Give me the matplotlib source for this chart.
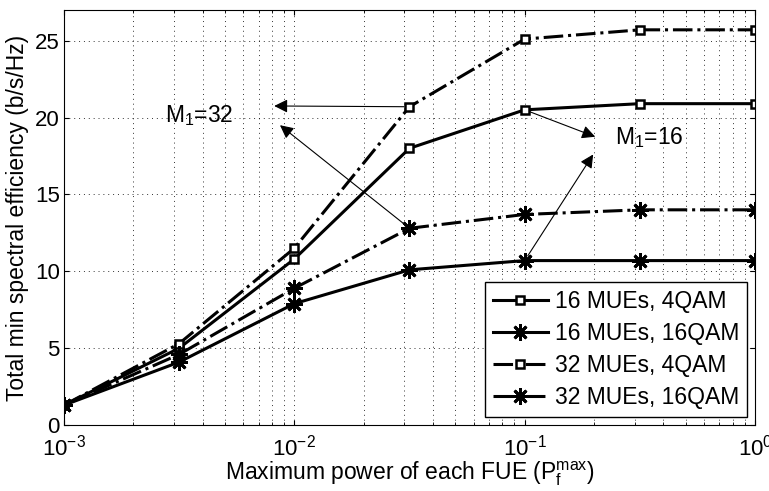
import numpy as np
import matplotlib
matplotlib.use("Agg")
import matplotlib.pyplot as plt

plt.rcParams['font.family'] = ['Liberation Sans', 'DejaVu Sans']
plt.rcParams['mathtext.fontset'] = 'custom'
plt.rcParams['mathtext.rm'] = 'Liberation Sans'
plt.rcParams['mathtext.it'] = 'Liberation Sans'
plt.rcParams['mathtext.default'] = 'regular'

# data
power = [1e-3, 10**-2.5, 1e-2, 10**-1.5, 1e-1, 10**-0.5, 1e0]
mue16_4qam = [1.3, 5.0, 10.8, 18.0, 20.5, 20.9, 20.9]
mue16_16qam = [1.3, 4.1, 7.9, 10.1, 10.7, 10.7, 10.7]
mue32_4qam = [1.3, 5.3, 11.5, 20.7, 25.1, 25.7, 25.7]
mue32_16qam = [1.3, 4.6, 8.9, 12.8, 13.7, 14.0, 14.0]

fig = plt.figure(figsize=(7.69, 4.91), dpi=100)
ax = fig.add_axes([0.083, 0.134, 0.899, 0.846])

star = (8, 2, 0)
ax.plot(power, mue16_4qam, '-', color='k', lw=2.2, marker='s', ms=6,
        mfc='white', mec='k', mew=1.8, label='16 MUEs, 4QAM')
ax.plot(power, mue16_16qam, '-', color='k', lw=2.2, marker=star, ms=12,
        mec='k', mew=2, label='16 MUEs, 16QAM')
ax.plot(power, mue32_4qam, '-.', color='k', lw=2.2, marker='s', ms=6,
        mfc='white', mec='k', mew=1.8, label='32 MUEs, 4QAM')
ax.plot(power, mue32_16qam, '-.', color='k', lw=2.2, marker=star, ms=12,
        mec='k', mew=2, label='32 MUEs, 16QAM')

ax.set_xscale('log')
ax.set_xlim(1e-3, 1)
ax.set_ylim(0, 27)
ax.set_yticks([0, 5, 10, 15, 20, 25])

gstyle = dict(linestyle=(0, (1, 4)), color='k', lw=0.7, alpha=0.8)
ax.grid(True, which='major', axis='both', **gstyle)
ax.grid(True, which='minor', axis='x', **gstyle)
ax.tick_params(which='both', direction='in', top=True, right=True, labelsize=16)
ax.tick_params(axis='x', pad=7)
ax.tick_params(axis='y', pad=3)

ax.set_xlabel('Maximum power of each FUE (P$_f^{max}$)', fontsize=16.5, labelpad=-1)
ax.set_ylabel('Total min spectral efficiency (b/s/Hz)', fontsize=16.5, labelpad=4)

arrow = dict(arrowstyle='-|>', color='k', lw=0.8, mutation_scale=20,
             shrinkA=4, shrinkB=0)
ax.text(10**-2.56, 20.1, 'M$_1$=32', fontsize=16.5, va='center')
ax.annotate('', xy=(10**-2.087, 20.75), xytext=(power[3], mue32_4qam[3]), arrowprops=arrow)
ax.annotate('', xy=(10**-2.062, 19.5), xytext=(power[3], mue32_16qam[3]), arrowprops=arrow)
ax.text(10**-0.61, 18.7, 'M$_1$=16', fontsize=16.5, va='center')
ax.annotate('', xy=(10**-0.694, 18.75), xytext=(power[4], mue16_4qam[4]), arrowprops=arrow)
ax.annotate('', xy=(10**-0.703, 17.6), xytext=(power[4], mue16_16qam[4]), arrowprops=arrow)

leg = ax.legend(loc='lower right', fontsize=16.5, handlelength=2.4, borderaxespad=0.35,
                fancybox=False, edgecolor='k', framealpha=1, labelspacing=0.4,
                handletextpad=0.3, borderpad=0.35)
leg.get_frame().set_linewidth(1)

fig.savefig('out.png', dpi=100)
